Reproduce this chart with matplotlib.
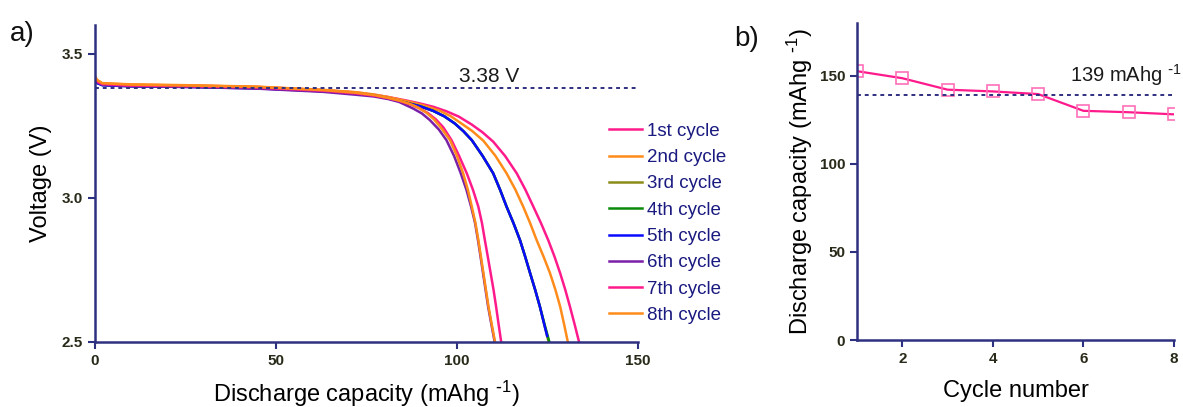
import matplotlib
matplotlib.use('Agg')
import matplotlib.pyplot as plt

plt.rcParams['font.family'] = ['Liberation Sans', 'DejaVu Sans']
plt.rcParams['mathtext.default'] = 'regular'

# panel a: discharge curves, capacity (mAh/g) vs voltage (V)
cap_1 = [0, 0.5, 2, 10, 26, 45, 63, 72, 77, 81, 86, 90, 93.5, 97.2, 100.5, 104, 107, 110, 113.3, 116.5,
         118.9, 121.1, 123.2, 125.2, 126.9, 128.5, 129.9, 131.2, 132.5, 133.7]
volt_1 = [3.418, 3.405, 3.396, 3.392, 3.390, 3.385, 3.374, 3.366, 3.358, 3.350, 3.338, 3.327, 3.316, 3.300, 3.282, 3.255, 3.228, 3.195, 3.145, 3.085,
          3.028, 2.969, 2.912, 2.853, 2.797, 2.738, 2.681, 2.622, 2.560, 2.500]
cap_2 = [0, 0.5, 2, 10, 26, 45, 63, 72, 77, 81, 86, 90.5, 95.3, 98.2, 101, 104.2, 107.3, 110.6, 113.7,
         116.1, 118.3, 120.2, 122, 123.9, 125.7, 127.2, 128.5, 129.6, 130.6]
volt_2 = [3.422, 3.410, 3.398, 3.394, 3.391, 3.386, 3.375, 3.367, 3.359, 3.350, 3.336, 3.322, 3.302, 3.284, 3.260, 3.232, 3.198, 3.146, 3.085,
          3.029, 2.969, 2.912, 2.853, 2.796, 2.738, 2.680, 2.622, 2.560, 2.500]
cap_3 = [0, 0.5, 2, 10, 26, 45, 63, 72, 77, 81, 86, 89.8, 93.4, 96.5, 99.4, 101.8, 104.1, 107.1, 110,
         111.9, 113.7, 115.6, 117.4, 118.8, 120.2, 121.6, 122.9, 124.1, 125.3]
volt_3 = [3.415, 3.400, 3.392, 3.388, 3.386, 3.381, 3.371, 3.363, 3.356, 3.346, 3.330, 3.318, 3.302, 3.283, 3.258, 3.231, 3.200, 3.145, 3.085,
          3.028, 2.969, 2.912, 2.853, 2.797, 2.738, 2.680, 2.622, 2.560, 2.500]
cap_4 = [0, 0.5, 2, 10, 26, 45, 63, 72, 77, 81, 86, 89.8, 93.4, 96.5, 99.4, 101.8, 104.1, 107.1, 110,
         111.9, 113.7, 115.6, 117.4, 118.8, 120.2, 121.6, 122.9, 124.2, 125.5]
volt_4 = [3.415, 3.400, 3.392, 3.388, 3.386, 3.381, 3.371, 3.363, 3.356, 3.346, 3.330, 3.318, 3.302, 3.283, 3.258, 3.231, 3.200, 3.145, 3.085,
          3.028, 2.969, 2.912, 2.853, 2.797, 2.738, 2.680, 2.622, 2.560, 2.500]
cap_5 = [0, 0.5, 2, 10, 26, 45, 63, 72, 77, 81, 86, 89.8, 93.4, 96.5, 99.4, 101.8, 104.1, 107.1, 110,
         111.9, 113.7, 115.6, 117.4, 118.8, 120.2, 121.6, 122.9, 124.0, 124.9]
volt_5 = [3.414, 3.399, 3.391, 3.387, 3.385, 3.380, 3.370, 3.362, 3.355, 3.345, 3.330, 3.318, 3.302, 3.283, 3.258, 3.231, 3.200, 3.145, 3.085,
          3.028, 2.969, 2.912, 2.853, 2.797, 2.738, 2.680, 2.622, 2.565, 2.520]
cap_6 = [0, 0.5, 2, 10, 26, 45, 63, 72, 77, 81, 84, 87.9, 90.3, 92.5, 95, 97.1, 99.2, 100.9, 102.6,
         103.9, 105.0, 105.8, 106.5, 107.2, 107.9, 108.6, 109.5, 110.4]
volt_6 = [3.416, 3.402, 3.393, 3.388, 3.385, 3.379, 3.368, 3.358, 3.352, 3.343, 3.333, 3.310, 3.293, 3.270, 3.237, 3.200, 3.145, 3.090, 3.028,
          2.969, 2.912, 2.853, 2.796, 2.738, 2.680, 2.622, 2.560, 2.500]
cap_7 = [0, 0.5, 2, 10, 26, 45, 63, 72, 77, 81, 84, 87, 89.5, 92, 94.2, 96.2, 98.5, 100.6, 102.7,
         104.4, 105.9, 106.9, 107.7, 108.5, 109.3, 110.1, 110.8, 111.5, 112.2]
volt_7 = [3.418, 3.404, 3.395, 3.390, 3.388, 3.383, 3.372, 3.363, 3.355, 3.346, 3.337, 3.325, 3.312, 3.294, 3.272, 3.245, 3.200, 3.145, 3.085,
          3.028, 2.969, 2.912, 2.853, 2.796, 2.738, 2.680, 2.622, 2.560, 2.500]
cap_8 = [0, 0.5, 2, 10, 26, 45, 63, 72, 77, 81, 84, 87, 89.3, 91.6, 93.6, 95.5, 98.1, 100, 101.7,
         103, 104.1, 105.1, 105.9, 106.6, 107.3, 108, 108.7, 109.6, 110.5]
volt_8 = [3.422, 3.410, 3.398, 3.393, 3.390, 3.385, 3.374, 3.365, 3.357, 3.347, 3.338, 3.326, 3.313, 3.295, 3.273, 3.245, 3.200, 3.145, 3.085,
          3.028, 2.969, 2.912, 2.853, 2.796, 2.738, 2.680, 2.622, 2.560, 2.500]

cycle_labels = ['1st cycle', '2nd cycle', '3rd cycle', '4th cycle',
                '5th cycle', '6th cycle', '7th cycle', '8th cycle']
cycle_colors = ['#FF1A8C', '#FF8C1A', '#8C8C1A', '#0A8A0A',
                '#0A0AFF', '#7A1FA8', '#FF1A8C', '#FF8C1A']
avg_voltage = 3.38

# panel b: discharge capacity per cycle
cycle_number = [1, 2, 3, 4, 5, 6, 7, 8]
discharge_cap = [152.5, 148.5, 142, 141, 139.5, 130, 129.2, 128]
avg_capacity = 139

navy = '#2E3080'
tick_col = '#2A2A1A'
unit = 'mAhg $^{\\text{-}1}$'

fig = plt.figure(figsize=(11.83, 4.07), dpi=100)
ax1 = fig.add_axes([0.0803, 0.1604, 0.459, 0.778])
ax2 = fig.add_axes([0.7244, 0.1646, 0.268, 0.7797])

curves = [(cap_1, volt_1), (cap_2, volt_2), (cap_3, volt_3), (cap_4, volt_4),
          (cap_5, volt_5), (cap_6, volt_6), (cap_7, volt_7), (cap_8, volt_8)]
for (c, v), lab, col in zip(curves, cycle_labels, cycle_colors):
    ax1.plot(c, v, color=col, lw=1.8, label=lab, solid_joinstyle='round')

ax1.plot([0, 150], [avg_voltage, avg_voltage], color=navy, lw=1.4, ls=(0, (2, 2)))
ax1.text(100.5, avg_voltage + 0.008, '%.2f V' % avg_voltage, fontsize=15, color='#1A1A1A', va='bottom')

ax1.set_xlim(0, 150)
ax1.set_ylim(2.5, 3.6)
ax1.set_xticks([0, 50, 100, 150])
ax1.set_yticks([2.5, 3.0, 3.5])
ax1.set_xlabel('Discharge capacity (' + unit + ')', fontsize=17, labelpad=8)
ax1.set_ylabel('Voltage (V)', fontsize=17, labelpad=7)

leg = ax1.legend(loc='upper left', bbox_to_anchor=(0.915, 0.745), frameon=False,
                 fontsize=13.5, handlelength=1.8, labelspacing=0.49, handletextpad=0.25)
for t in leg.get_texts():
    t.set_color('#1A1A80')

ax2.plot(cycle_number, discharge_cap, color='#FF1A8C', lw=1.6, marker='s', ms=8,
         mfc='none', mec='#FF70B8', mew=1.2)
ax2.plot([1, 8], [avg_capacity, avg_capacity], color=navy, lw=1.4, ls=(0, (2, 2)))
ax2.text(5.7, avg_capacity + 4, '%d ' % avg_capacity + unit, fontsize=14.5, color='#1A1A1A', va='bottom')

ax2.set_xlim(1, 8)
ax2.set_ylim(0, 180)
ax2.set_xticks([2, 4, 6, 8])
ax2.set_yticks([0, 50, 100, 150])
ax2.set_xlabel('Cycle number', fontsize=17, labelpad=10)
ax2.set_ylabel('Discharge capacity (' + unit + ')', fontsize=17, labelpad=3)

for ax in (ax1, ax2):
    for s in ('top', 'right'):
        ax.spines[s].set_visible(False)
    for s in ('left', 'bottom'):
        ax.spines[s].set_color(navy)
        ax.spines[s].set_linewidth(1.8)
    ax.tick_params(direction='out', length=5, width=1.5, color=navy,
                   labelsize=11, labelcolor=tick_col)
    for lab in ax.get_xticklabels() + ax.get_yticklabels():
        lab.set_fontweight('bold')

fig.text(0.008, 0.9, 'a)', fontsize=20, color='#111111')
fig.text(0.621, 0.888, 'b)', fontsize=20, color='#111111')

fig.savefig('out.png', dpi=100)
